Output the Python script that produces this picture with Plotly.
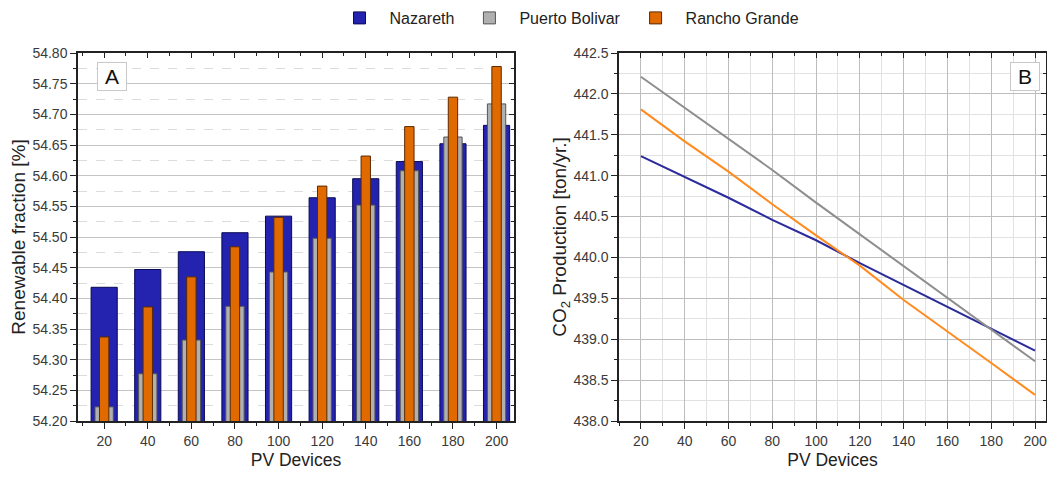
import plotly.graph_objects as go

pv_devices = [20, 40, 60, 80, 100, 120, 140, 160, 180, 200]
series_names = ["Nazareth", "Puerto Bolivar", "Rancho Grande"]

# Panel A: renewable fraction [%]
rf_nazareth = [54.418, 54.447, 54.476, 54.507, 54.534, 54.564, 54.595, 54.623, 54.652, 54.682]
rf_puerto = [54.223, 54.277, 54.332, 54.387, 54.443, 54.498, 54.552, 54.608, 54.663, 54.717]
rf_rancho = [54.337, 54.386, 54.435, 54.484, 54.532, 54.583, 54.632, 54.680, 54.728, 54.778]

# Panel B: CO2 production [ton/yr.]
co2_nazareth = [441.24, 440.99, 440.73, 440.46, 440.21, 439.93, 439.66, 439.40, 439.12, 438.86]
co2_puerto = [442.21, 441.83, 441.44, 441.07, 440.67, 440.28, 439.90, 439.51, 439.12, 438.73]
co2_rancho = [441.81, 441.42, 441.05, 440.65, 440.27, 439.90, 439.48, 439.10, 438.71, 438.32]

FONT = "Arial, Liberation Sans, sans-serif"
bar_fill = ["#2323b0", "#b0b0b0", "#e06a00"]
bar_edge = ["#0a0a55", "#555555", "#5a2a00"]
bar_width = [12, 8.4, 4.3]
line_colors = ["#2b2b9c", "#8e8e8e", "#ff8a1e"]

# The page body has an 8px margin; keep the figure small enough to avoid scrollbars
OFF = 8
W, H = 1055 - 2 * OFF, 478 - 2 * OFF
PLOT_L, PLOT_R, PLOT_T, PLOT_B = 78, 1046, 53, 421   # page pixels
L = PLOT_L - OFF
T = PLOT_T - OFF
R = W - (PLOT_R - OFF)
B = H - (PLOT_B - OFF)
pw = W - L - R
ph = H - T - B
dom1 = [0, (514 - PLOT_L) / pw]
dom2 = [(619 - PLOT_L) / pw, 1]


def px_x(px):
    return (px - PLOT_L) / pw


def px_y(py):
    return 1 - (py - PLOT_T) / ph


fig = go.Figure()

for name, vals, fc, ec, w in zip(series_names, [rf_nazareth, rf_puerto, rf_rancho],
                                 bar_fill, bar_edge, bar_width):
    fig.add_trace(go.Bar(x=pv_devices, y=vals, name=name, width=w,
                         marker=dict(color=fc, line=dict(color=ec, width=1)),
                         xaxis="x", yaxis="y"))

for name, vals, lc in zip(series_names, [co2_nazareth, co2_puerto, co2_rancho], line_colors):
    fig.add_trace(go.Scatter(x=pv_devices, y=vals, name=name, mode="lines",
                             line=dict(color=lc, width=2), showlegend=False,
                             xaxis="x2", yaxis="y2"))

# invisible helper traces so the mirrored (top/right) tick axes are drawn
fig.add_trace(go.Scatter(x=pv_devices, y=rf_nazareth, mode="markers",
                         marker=dict(opacity=0), showlegend=False, hoverinfo="skip",
                         xaxis="x3", yaxis="y3"))
fig.add_trace(go.Scatter(x=pv_devices, y=co2_nazareth, mode="markers",
                         marker=dict(opacity=0), showlegend=False, hoverinfo="skip",
                         xaxis="x4", yaxis="y4"))

tickfont = dict(family=FONT, size=14, color="#3a3a3a")
xtitlefont = dict(family=FONT, size=17.5, color="#222222")
ytitlefont = dict(family=FONT, size=19, color="#222222")

common_axis = dict(showline=True, linecolor="#222222", linewidth=1.5, ticks="outside",
                   ticklen=6, tickwidth=1.2, tickcolor="#222222", tickfont=tickfont,
                   zeroline=False)

xr1 = [8, 208]
yr1 = [54.2, 54.8]
xr2 = [10, 205]
yr2 = [438.0, 442.5]


def mirror_axis(**kw):
    d = dict(showticklabels=False, showgrid=False, showline=True,
             linecolor="#222222", linewidth=1.5, ticks="inside", ticklen=5,
             tickwidth=1.2, tickcolor="#222222", zeroline=False)
    d.update(kw)
    return d


box_label = dict(xref="paper", yref="paper", xanchor="center", yanchor="middle",
                 showarrow=False, font=dict(family=FONT, size=21, color="#111111"),
                 width=26, height=25, bordercolor="#c8c8c8", borderwidth=1, borderpad=1,
                 bgcolor="white")

fig.update_layout(
    width=W, height=H,
    margin=dict(l=L, r=R, t=T, b=B),
    paper_bgcolor="white", plot_bgcolor="white",
    barmode="overlay",
    font=dict(family=FONT, color="#222222"),
    legend=dict(orientation="h", xref="container", yref="container",
                x=(567 - OFF) / W, y=1 - (18 - OFF) / H, xanchor="center", yanchor="middle",
                font=dict(family=FONT, size=16, color="#222222"),
                itemwidth=50, traceorder="normal"),
    xaxis=dict(domain=dom1, anchor="y", range=xr1, tick0=20, dtick=20,
               title=dict(text="PV Devices", font=xtitlefont, standoff=6),
               showgrid=False,
               minor=dict(dtick=10, tick0=0, ticks="outside", ticklen=3,
                          tickcolor="#222222", showgrid=False),
               **common_axis),
    yaxis=dict(domain=[0, 1], anchor="x", range=yr1, tick0=54.2, dtick=0.05,
               tickformat=".2f",
               title=dict(text="Renewable fraction [%]", font=ytitlefont, standoff=4),
               showgrid=True, gridcolor="#c4c4c4", gridwidth=1,
               minor=dict(dtick=0.025, ticks="outside", ticklen=3, tickcolor="#222222",
                          showgrid=True, gridcolor="#dcdcdc", griddash="dash"),
               **common_axis),
    xaxis3=mirror_axis(overlaying="x", anchor="y", side="top", range=xr1, tick0=20, dtick=20,
                       minor=dict(dtick=10, ticks="inside", ticklen=3, tickcolor="#222222")),
    yaxis3=mirror_axis(overlaying="y", anchor="x", side="right", range=yr1, tick0=54.2,
                       dtick=0.05,
                       minor=dict(dtick=0.025, ticks="inside", ticklen=3, tickcolor="#222222")),
    xaxis2=dict(domain=dom2, anchor="y2", range=xr2, tick0=0, dtick=20,
                title=dict(text="PV Devices", font=xtitlefont, standoff=6),
                showgrid=True, gridcolor="#bdbdbd", gridwidth=1,
                minor=dict(dtick=10, ticks="outside", ticklen=3, tickcolor="#222222",
                           showgrid=True, gridcolor="#e2e2e2"),
                **common_axis),
    yaxis2=dict(domain=[0, 1], anchor="x2", range=yr2, dtick=0.5, tickformat=".1f",
                title=dict(text="CO<sub>2</sub> Production [ton/yr.]", font=ytitlefont,
                           standoff=2),
                showgrid=True, gridcolor="#bdbdbd", gridwidth=1,
                minor=dict(dtick=0.25, ticks="outside", ticklen=3, tickcolor="#222222",
                           showgrid=True, gridcolor="#e2e2e2"),
                **common_axis),
    xaxis4=mirror_axis(overlaying="x2", anchor="y2", side="top", range=xr2, tick0=0, dtick=20,
                       minor=dict(dtick=10, ticks="inside", ticklen=3, tickcolor="#222222")),
    yaxis4=mirror_axis(overlaying="y2", anchor="x2", side="right", range=yr2, dtick=0.5,
                       minor=dict(dtick=0.25, ticks="inside", ticklen=3, tickcolor="#222222")),
    annotations=[
        dict(text="A", x=px_x(111.5), y=px_y(77), **box_label),
        dict(text="B", x=px_x(1025), y=px_y(77), **box_label),
    ],
)

fig.write_html("out.html")
